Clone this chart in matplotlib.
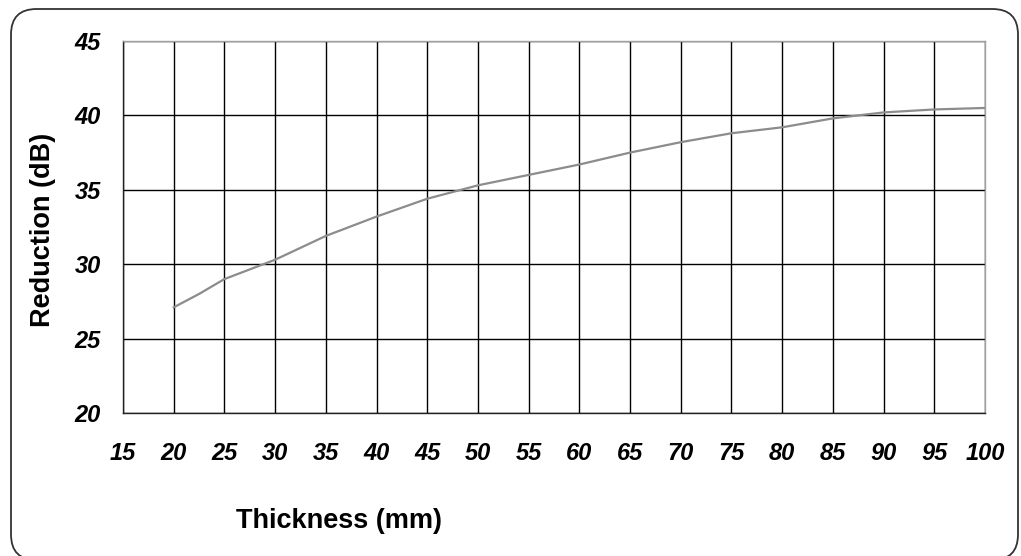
import matplotlib
matplotlib.use("Agg")
import matplotlib.pyplot as plt
from matplotlib.patches import FancyBboxPatch

thickness = [20, 22.5, 25, 30, 35, 40, 45, 50, 55, 60, 65, 70, 75, 80, 85, 90, 95, 100]
reduction = [27.1, 28.0, 29.0, 30.3, 31.9, 33.2, 34.4, 35.3, 36.0, 36.7, 37.5, 38.2, 38.8, 39.2, 39.8, 40.2, 40.4, 40.5]
xticks = list(range(15, 101, 5))
yticks = list(range(20, 46, 5))

W, H = 1021, 556
fig = plt.figure(figsize=(W / 100, H / 100), dpi=100)
fig.patch.set_facecolor("white")

# rounded outer border
bx0, by0, bx1, by1 = 11, -4, 1018, 547  # pixel coords from bottom
border = FancyBboxPatch((bx0 / W, by0 / H), (bx1 - bx0) / W, (by1 - by0) / H,
                        boxstyle="round,pad=0,rounding_size=0.025",
                        transform=fig.transFigure, facecolor="none",
                        edgecolor="#333333", linewidth=1.3, mutation_aspect=W / H)
fig.patches.append(border)

left, right, top, bottom = 123, 985, 41, 413
ax = fig.add_axes([left / W, 1 - bottom / H, (right - left) / W, (bottom - top) / H])
ax.set_xlim(15, 100)
ax.set_ylim(20, 45)
ax.set_xticks(xticks)
ax.set_yticks(yticks)
ax.grid(True, color="black", linewidth=1.0)
ax.set_axisbelow(True)
ax.tick_params(length=0)
for lab in ax.get_xticklabels() + ax.get_yticklabels():
    lab.set_fontfamily("Liberation Sans")
    lab.set_fontweight("bold")
    lab.set_fontstyle("italic")
    lab.set_fontsize(17)
ax.tick_params(axis="y", pad=16)
ax.tick_params(axis="x", pad=21)
for s in ["left", "bottom"]:
    ax.spines[s].set_color("#222222")
    ax.spines[s].set_linewidth(1.0)
for s in ["top", "right"]:
    ax.spines[s].set_color("#a0a0a0")
    ax.spines[s].set_linewidth(1.0)

ax.plot(thickness, reduction, color="#8c8c8c", linewidth=1.6)

fig.text(339 / W, 1 - 521 / H, "Thickness (mm)", ha="center", va="center",
         fontfamily="Liberation Sans", fontweight="bold", fontsize=19.5)
fig.text(43 / W, 1 - 230 / H, "Reduction (dB)", ha="center", va="center",
         rotation=90, fontfamily="Liberation Sans", fontweight="bold", fontsize=19.5)

fig.savefig("out.png", dpi=100)
